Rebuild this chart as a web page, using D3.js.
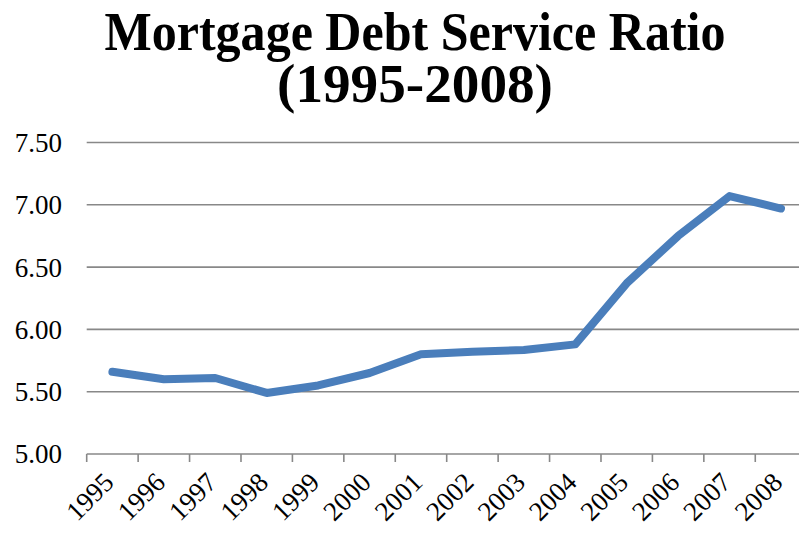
<!DOCTYPE html>
<html>
    <head>
        <title>Mortgage Debt Service Ratio</title>
        <script src="https://d3js.org/d3.v7.min.js"></script>
        <style>
            body { margin: 0; background: #ffffff; }
            svg { display: block; }
        </style>
    </head>
    <body>
        <script>
            const years = ['1995', '1996', '1997', '1998', '1999', '2000', '2001',
                           '2002', '2003', '2004', '2005', '2006', '2007', '2008']
            const ratio = [5.66, 5.60, 5.61, 5.49, 5.55, 5.65, 5.80,
                           5.82, 5.835, 5.88, 6.37, 6.75, 7.07, 6.97]
            const yTicks = [5.0, 5.5, 6.0, 6.5, 7.0, 7.5]

            const W = 799
            const H = 533
            const font = '"Liberation Serif", "DejaVu Serif", serif'

            const svg = d3.select('body').append('svg')
                .attr('width', W)
                .attr('height', H)

            // plot area runs past the right edge of the picture, as in the original
            const x = d3.scaleBand().domain(years).range([86.7, 806.7])
            const y = d3.scaleLinear().domain([5, 7.5]).range([454, 142.5])

            // title
            const title = svg.append('text')
                .attr('font-family', font)
                .attr('font-weight', 'bold')
                .attr('font-size', 54)
                .attr('fill', '#000')
                .attr('text-anchor', 'middle')
            title.append('tspan')
                .attr('x', 415).attr('y', 50)
                .attr('textLength', 621).attr('lengthAdjust', 'spacingAndGlyphs')
                .text('Mortgage Debt Service Ratio')
            title.append('tspan')
                .attr('x', 415).attr('y', 102)
                .attr('textLength', 276).attr('lengthAdjust', 'spacingAndGlyphs')
                .text('(1995-2008)')

            // gridlines
            svg.append('g').selectAll('line')
                .data(yTicks).enter()
                .append('line')
                    .attr('x1', x.range()[0]).attr('x2', W)
                    .attr('y1', d => y(d)).attr('y2', d => y(d))
                    .attr('stroke', '#888888')
                    .attr('stroke-width', 1.6)

            // y labels
            svg.append('g').selectAll('text')
                .data(yTicks).enter()
                .append('text')
                    .attr('x', 62)
                    .attr('y', d => y(d))
                    .attr('dy', '0.35em')
                    .attr('text-anchor', 'end')
                    .attr('font-family', font)
                    .attr('font-size', 27)
                    .attr('fill', '#000')
                    .text(d => d.toFixed(2))

            // x axis ticks at band edges
            const edges = years.map(d => x(d)).concat([x.range()[1]])
            svg.append('g').selectAll('line')
                .data(edges).enter()
                .append('line')
                    .attr('x1', d => d).attr('x2', d => d)
                    .attr('y1', y(5)).attr('y2', y(5) + 8)
                    .attr('stroke', '#888888')
                    .attr('stroke-width', 1.6)

            // x labels, rotated
            svg.append('g').selectAll('text')
                .data(years).enter()
                .append('text')
                    .attr('transform', d => `translate(${x(d) + x.bandwidth() / 2 + 3}, ${y(5) + 30}) rotate(-45)`)
                    .attr('text-anchor', 'end')
                    .attr('font-family', font)
                    .attr('font-size', 27)
                    .attr('fill', '#000')
                    .text(d => d)

            // series
            const line = d3.line()
                .x((d, i) => x(years[i]) + x.bandwidth() / 2)
                .y(d => y(d))

            svg.append('path')
                .datum(ratio)
                .attr('d', line)
                .attr('fill', 'none')
                .attr('stroke', '#4a7ebb')
                .attr('stroke-width', 8)
                .attr('stroke-linecap', 'round')
                .attr('stroke-linejoin', 'round')
        </script>
    </body>
</html>
